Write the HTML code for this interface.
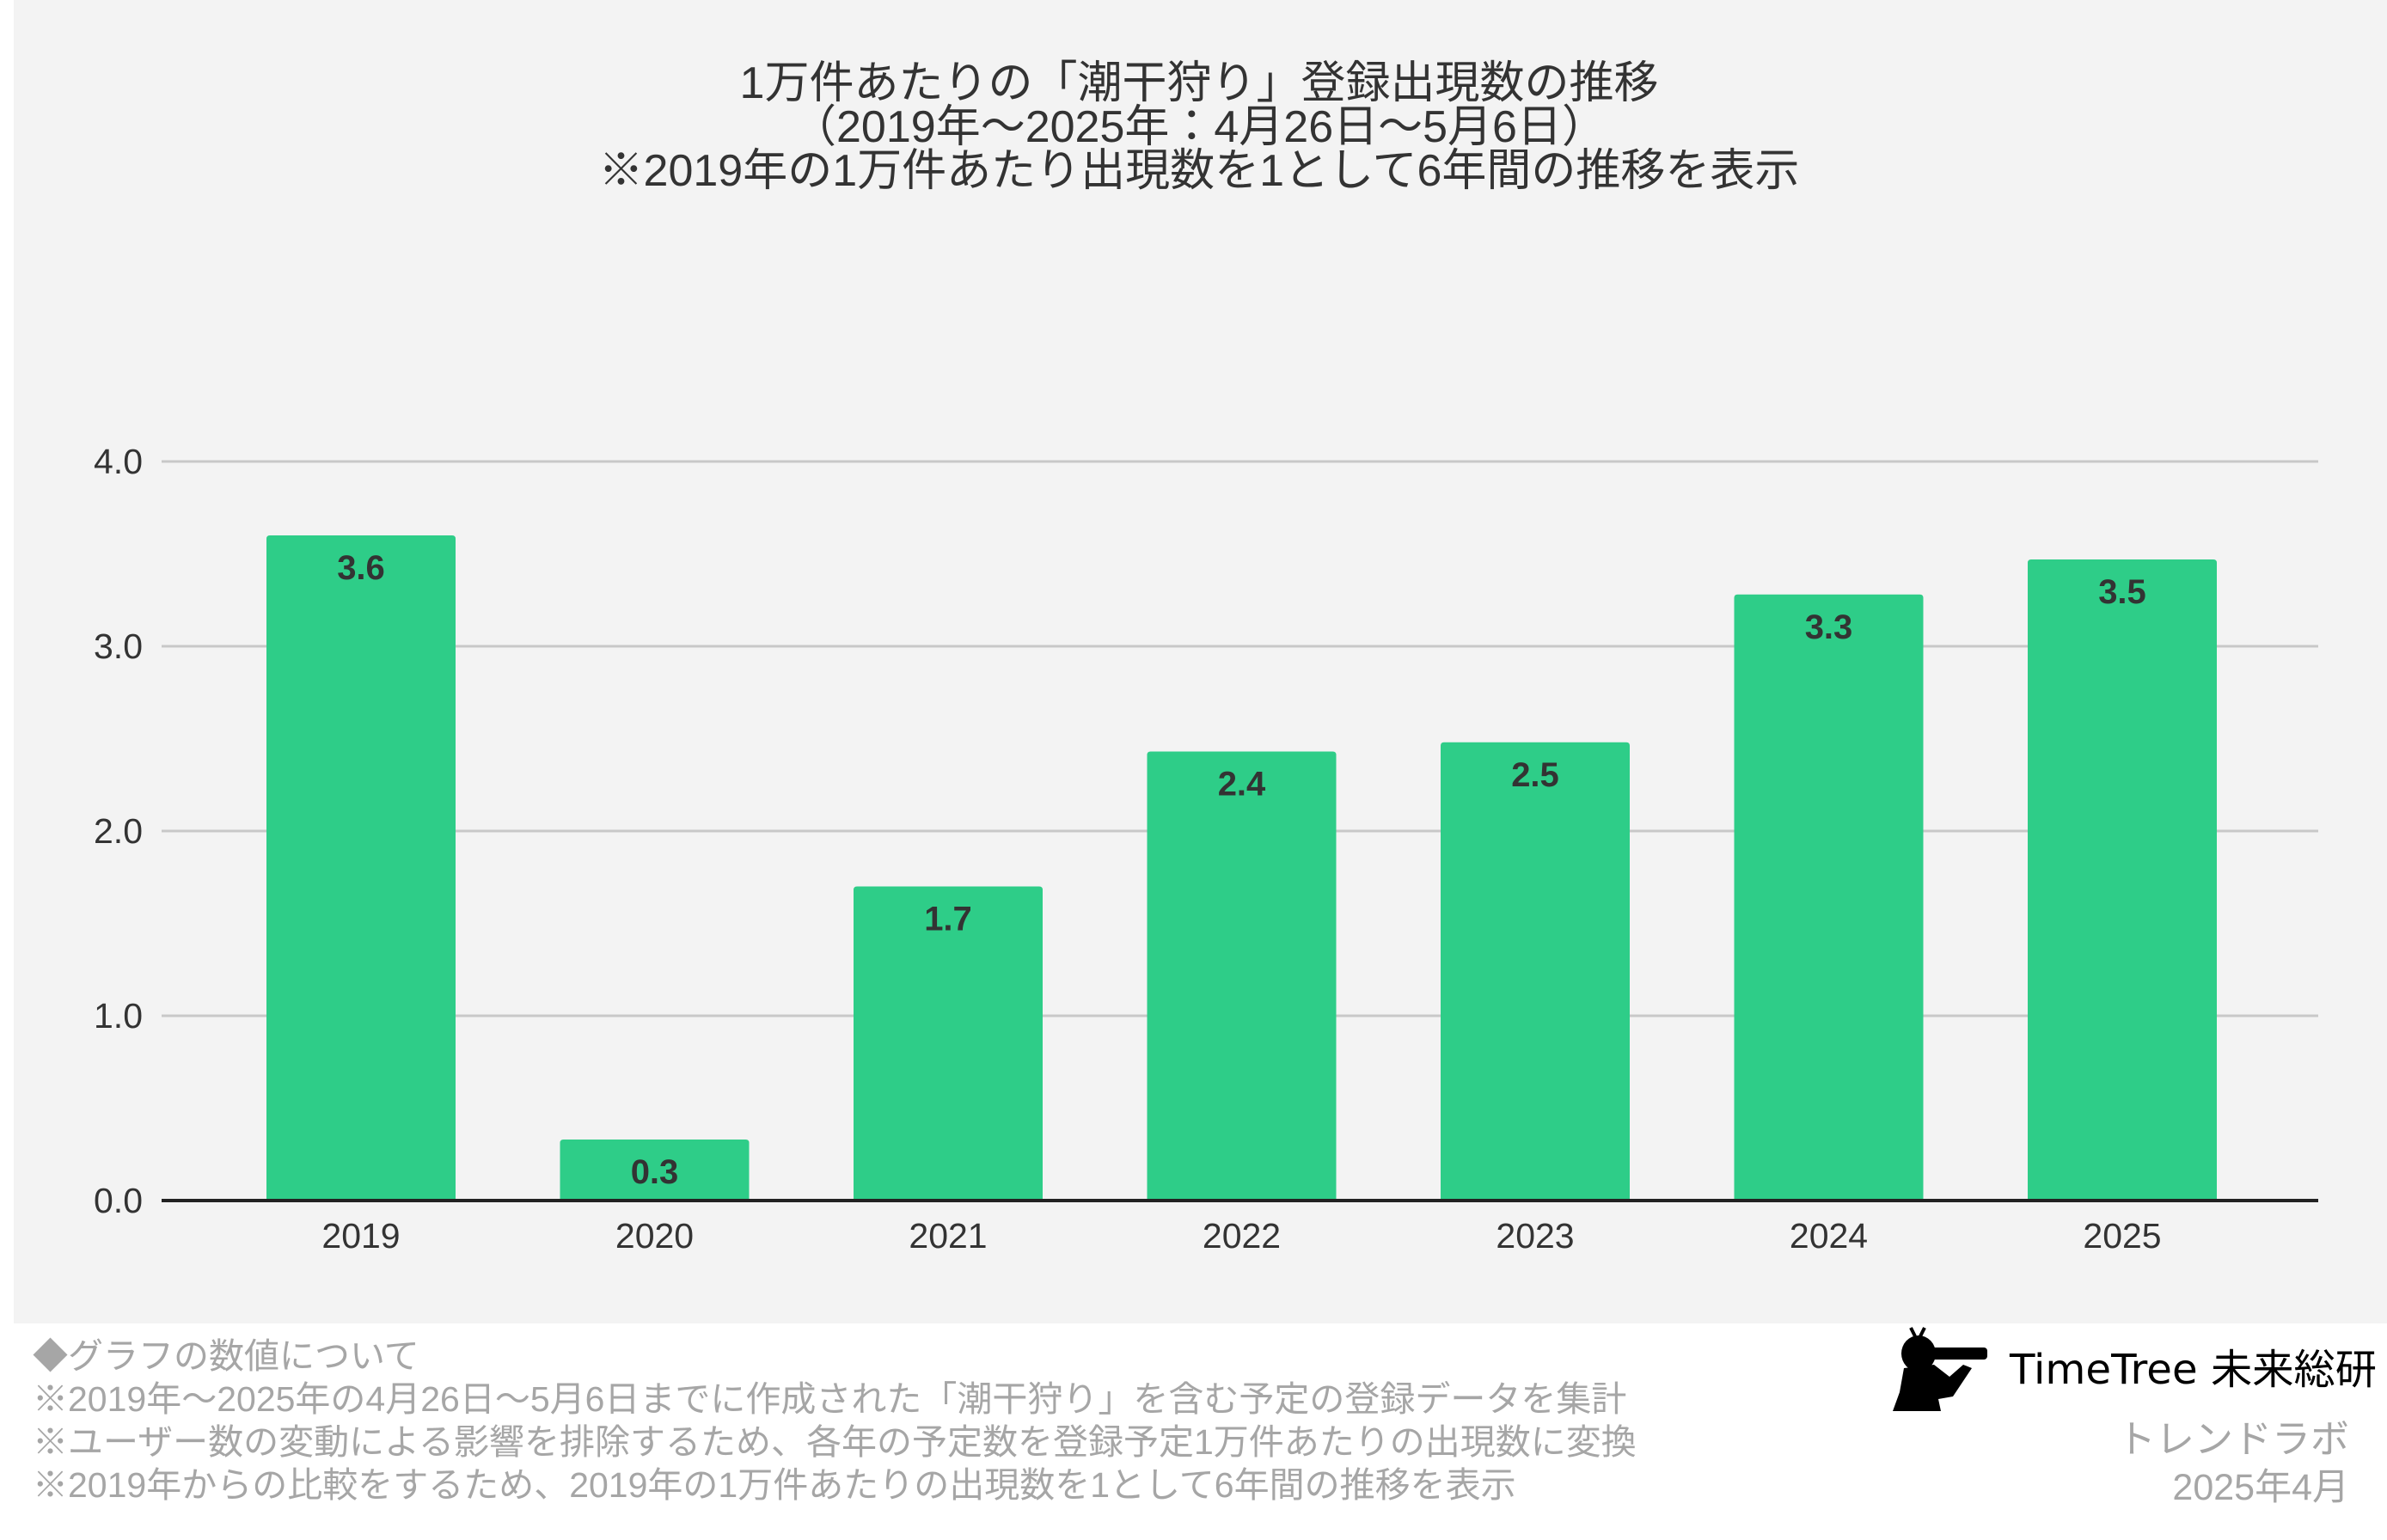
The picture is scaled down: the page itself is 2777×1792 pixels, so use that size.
<!DOCTYPE html>
<html><head><meta charset="utf-8">
<style>
html,body{margin:0;padding:0;background:#fff;}
body{width:2777px;height:1792px;position:relative;overflow:hidden;font-family:"Liberation Sans","Noto Sans CJK JP",sans-serif;}
#bg{position:absolute;left:16px;top:0;width:2761px;height:1540px;background:#f3f3f3;}
svg{position:absolute;left:0;top:0;}
.note{position:absolute;left:38px;color:#a6a6a6;font-size:41px;white-space:nowrap;line-height:50px;}
</style></head><body>
<div id="bg"></div>
<svg id="chart" width="2777" height="1792">
  <g font-size="52" fill="#333" text-anchor="middle">
    <text x="1395" y="114">1万件あたりの「潮干狩り」登録出現数の推移</text>
    <text x="1395" y="165">（2019年〜2025年：4月26日〜5月6日）</text>
    <text x="1395" y="216">※2019年の1万件あたり出現数を1として6年間の推移を表示</text>
  </g>
  <g id="grid"></g>
  <g id="bars"></g>
  <g id="labels"></g>
</svg>
<div class="note" style="top:1553px">◆グラフの数値について</div>
<div class="note" style="top:1603px">※2019年〜2025年の4月26日〜5月6日までに作成された「潮干狩り」を含む予定の登録データを集計</div>
<div class="note" style="top:1653px">※ユーザー数の変動による影響を排除するため、各年の予定数を登録予定1万件あたりの出現数に変換</div>
<div class="note" style="top:1703px">※2019年からの比較をするため、2019年の1万件あたりの出現数を1として6年間の推移を表示</div>
<svg width="2777" height="1792" style="pointer-events:none">
  <g fill="#000">
    <ellipse cx="2232" cy="1575" rx="20" ry="21"/>
    <path d="M2228 1555 l-5 -10 M2234 1555 l5 -10" stroke="#000" stroke-width="4"/>
    <rect x="2246" y="1568" width="66" height="14" rx="4"/>
    <path d="M2215 1592 L2250 1588 L2268 1602 L2284 1588 L2294 1592 L2272 1625 L2255 1628 L2258 1642 L2202 1642 L2210 1620 Z"/>
  </g>
  <text x="2338" y="1610" font-size="48" fill="#000" textLength="427" lengthAdjust="spacingAndGlyphs" font-family="'DejaVu Sans','Noto Sans CJK JP',sans-serif">TimeTree 未来総研</text>
  <text x="2733" y="1690" font-size="45" fill="#a6a6a6" text-anchor="end">トレンドラボ</text>
  <text x="2733" y="1745" font-size="43" fill="#a6a6a6" text-anchor="end">2025年4月</text>
</svg>
<script>
const categories = ["2019","2020","2021","2022","2023","2024","2025"];
const values = [3.6,0.33,1.7,2.43,2.48,3.28,3.47];
const valueLabels = ["3.6","0.3","1.7","2.4","2.5","3.3","3.5"];
const yTicks = [0,1,2,3,4];
const yTickLabels = ["0.0","1.0","2.0","3.0","4.0"];

const NS="http://www.w3.org/2000/svg";
const plotL=188, plotR=2697, y0=1397, unit=215;
const firstCenter=420, step=341.5, barW=220;
const y=v=>y0-v*unit;
const x=i=>firstCenter+i*step;
function mk(tag,attrs,parent){const e=document.createElementNS(NS,tag);for(const k in attrs)e.setAttribute(k,attrs[k]);parent.appendChild(e);return e;}
const grid=document.getElementById('grid'),bars=document.getElementById('bars'),labels=document.getElementById('labels');
yTicks.forEach((t,i)=>{
  if(t!==0){
    const l=mk('line',{x1:plotL,x2:plotR,y1:y(t),y2:y(t),stroke:'#c8c8c8','stroke-width':3},grid);
    
    
  }
  const tx=mk('text',{x:166,y:y(t)+14,'font-size':41,fill:'#333','text-anchor':'end'},grid);
  tx.textContent=yTickLabels[i];
  
  
});
categories.forEach((c,i)=>{
  const r=mk('path',{d:`M${x(i)-barW/2} ${y0} V${y(values[i])+4} q0 -4 4 -4 H${x(i)+barW/2-4} q4 0 4 4 V${y0} Z`,fill:'#2ecd88'},bars);
  
  
  const v=mk('text',{x:x(i),y:y(values[i])+51,'font-size':40,'font-weight':'bold',fill:'#333','text-anchor':'middle'},labels);
  v.textContent=valueLabels[i];
  
  
  const xl=mk('text',{x:x(i),y:1452,'font-size':41,fill:'#333','text-anchor':'middle'},labels);
  xl.textContent=c;
  
  
});
const ax=mk('line',{x1:plotL,x2:plotR,y1:y0,y2:y0,stroke:'#222','stroke-width':4},labels);


</script>
</body></html>
